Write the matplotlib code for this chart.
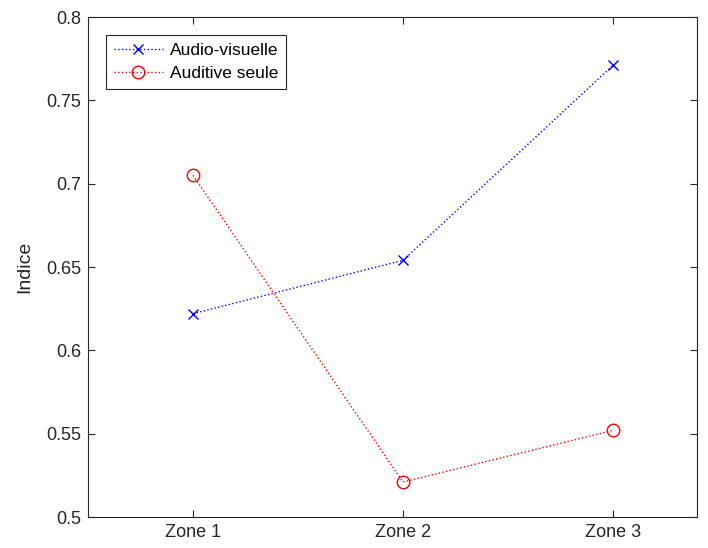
import matplotlib
matplotlib.use("Agg")
import matplotlib.pyplot as plt

zones = ["Zone 1", "Zone 2", "Zone 3"]
x = [1, 2, 3]
audio_visuelle = [0.622, 0.654, 0.771]
auditive_seule = [0.705, 0.521, 0.552]

plt.rcParams['font.family'] = ['Liberation Sans', 'DejaVu Sans']

fig = plt.figure(figsize=(7.08, 5.48), dpi=100)
ax = fig.add_axes([88 / 708, 31 / 548, 609 / 708, 500 / 548])

ax.plot(x, audio_visuelle, ':', color='blue', marker='x', markersize=7,
        linewidth=1, label='Audio-visuelle')
ax.plot(x, auditive_seule, ':', color='red', marker='o', markersize=9,
        markerfacecolor='none', linewidth=1, label='Auditive seule')

ax.set_xlim(0.5, 3.4)
ax.set_ylim(0.5, 0.8)
ax.set_xticks(x)
ax.set_xticklabels(zones)
ax.set_yticks([0.5, 0.55, 0.6, 0.65, 0.7, 0.75, 0.8])
ax.set_yticklabels(['0.5', '0.55', '0.6', '0.65', '0.7', '0.75', '0.8'])
ax.set_ylabel('Indice', fontsize=14, color='#262626', labelpad=9)

for s in ax.spines.values():
    s.set_color('#262626')
    s.set_linewidth(0.8)
ax.tick_params(direction='in', top=True, right=True, length=5, width=0.8,
               colors='#262626', labelsize=13, pad=5)

leg = ax.legend(loc='upper left', bbox_to_anchor=(0.03, 0.964), fancybox=False,
                framealpha=1, edgecolor='#262626', fontsize=12.5,
                handlelength=2.8, borderpad=0.45, labelspacing=0.45,
                handletextpad=0.4, borderaxespad=0)
leg.get_frame().set_linewidth(0.8)

fig.savefig("out.png", dpi=100)
